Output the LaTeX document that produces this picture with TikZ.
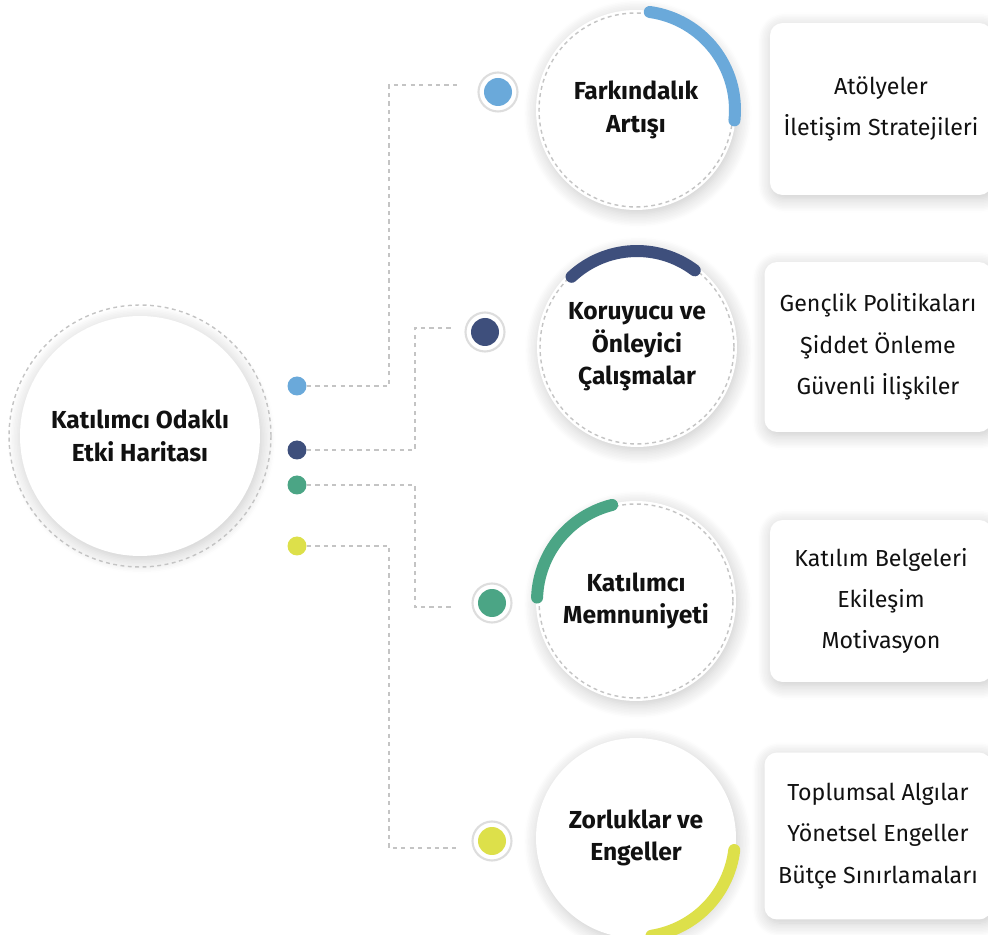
\documentclass[tikz,border=0pt]{standalone}
\usepackage{fontspec}
\setmainfont{Fira Sans}
\usetikzlibrary{shadows.blur}
\definecolor{awareblue}{HTML}{6AA9DA}
\definecolor{protectnavy}{HTML}{3E4F7C}
\definecolor{satisgreen}{HTML}{4BA585}
\definecolor{barrieryellow}{HTML}{DDE04A}
\definecolor{dashgray}{HTML}{C4C4C4}
\definecolor{ringgray}{HTML}{DDDDDD}
\definecolor{inktext}{HTML}{111111}
\begin{document}
\begin{tikzpicture}[
    x=0.02cm, y=0.02cm,
    softshadow/.style={
      blur shadow={shadow xshift=1pt, shadow yshift=-2pt,
        shadow blur radius=8pt, shadow blur steps=10, shadow opacity=22}
    },
    hub/.style={
      circle,
      fill=white,
      minimum size=4.8cm,
      inner sep=0pt,
      align=center,
      text=inktext,
      font=\bfseries\fontsize{14}{19}\selectfont,
      softshadow
    },
    topic/.style={
      circle,
      fill=white,
      minimum size=4cm,
      inner sep=0pt,
      align=center,
      text=inktext,
      font=\bfseries\fontsize{14}{18.5}\selectfont,
      softshadow
    },
    detail/.style 2 args={
      rectangle,
      rounded corners=0.25cm,
      fill=white,
      minimum width=#1,
      minimum height=#2,
      align=center,
      text=inktext,
      font=\fontsize{13.2}{23.5}\selectfont,
      softshadow
    },
    smalldot/.style={circle, fill=#1, minimum size=0.38cm, inner sep=0pt},
    marker/.style={
      circle,
      draw=ringgray,
      line width=1.2pt,
      fill=white,
      minimum size=0.78cm,
      inner sep=0pt,
      path picture={\fill[#1] (path picture bounding box.center) circle (0.28cm);}
    },
    link/.style={draw=dashgray, line width=0.85pt, dash pattern=on 2.4pt off 2.4pt},
    rim/.style={draw=dashgray, line width=0.8pt, dash pattern=on 2.2pt off 2pt},
    progress/.style={line width=0.24cm, line cap=round}
  ]
    \useasboundingbox (0,0) rectangle (988,-935);
    \clip (0,0) rectangle (988,-935);

    % centre of the map
    \node[hub] (hub) at (140,-436) {Katılımcı Odaklı\\Etki Haritası};
    \draw[rim] (hub.center) circle[radius=2.62cm];

    \node[smalldot=awareblue] (dot1) at (297,-386) {};
    \node[smalldot=protectnavy] (dot2) at (297,-450) {};
    \node[smalldot=satisgreen] (dot3) at (297,-485) {};
    \node[smalldot=barrieryellow] (dot4) at (297,-546) {};

    \node[marker=awareblue] (mark1) at (498,-92) {};
    \node[marker=protectnavy] (mark2) at (485,-332) {};
    \node[marker=satisgreen] (mark3) at (492,-603) {};
    \node[marker=barrieryellow] (mark4) at (492,-841) {};

    \coordinate (elbow1) at (389,-85);   \coordinate (end1) at (458,-85);
    \coordinate (elbow2) at (415,-328);  \coordinate (end2) at (452,-328);
    \coordinate (elbow3) at (415,-607);  \coordinate (end3) at (452,-607);
    \coordinate (elbow4) at (389,-848);  \coordinate (end4) at (458,-848);

    \draw[link] (dot1.east) -| (elbow1) -- (end1);
    \draw[link] (dot2.east) -| (elbow2) -- (end2);
    \draw[link] (dot3.east) -| (elbow3) -- (end3);
    \draw[link] (dot4.east) -| (elbow4) -- (end4);

    % topic circles with their progress arcs
    \node[topic] (aware) at (636,-110) {Farkındalık\\Artışı};
    \draw[rim] (aware.center) circle[radius=1.94cm];
    \draw[progress, awareblue] ([shift={(82:1.98cm)}]aware.center)
      arc[start angle=82, end angle=-6, radius=1.98cm];

    \node[topic] (protect) at (637,-347) {Koruyucu ve\\Önleyici\\Çalışmalar};
    \draw[rim] (protect.center) circle[radius=1.94cm];
    \draw[progress, protectnavy] ([shift={(133:1.92cm)}]protect.center)
      arc[start angle=133, end angle=53, radius=1.92cm];

    \node[topic] (satis) at (636,-601) {Katılımcı\\Memnuniyeti};
    \draw[rim] (satis.center) circle[radius=1.94cm];
    \draw[progress, satisgreen] ([shift={(104:1.98cm)}]satis.center)
      arc[start angle=104, end angle=178, radius=1.98cm];

    \node[topic] (barrier) at (636,-838) {Zorluklar ve\\Engeller};
    \draw[progress, barrieryellow] ([shift={(-7:1.98cm)}]barrier.center)
      arc[start angle=-7, end angle=-81, radius=1.98cm];

    % detail cards
    \node[detail={4.44cm}{3.44cm}] (awarecard) at (881,-109) {Atölyeler\\İletişim Stratejileri};
    \node[detail={4.54cm}{3.4cm}] (protectcard) at (878,-347) {Gençlik Politikaları\\Şiddet Önleme\\Güvenli İlişkiler};
    \node[detail={4.44cm}{3.24cm}] (satiscard) at (881,-601) {Katılım Belgeleri\\Ekileşim\\Motivasyon};
    \node[detail={4.54cm}{3.34cm}] (barriercard) at (878,-836) {Toplumsal Algılar\\Yönetsel Engeller\\Bütçe Sınırlamaları};
  \end{tikzpicture}
\end{document}
